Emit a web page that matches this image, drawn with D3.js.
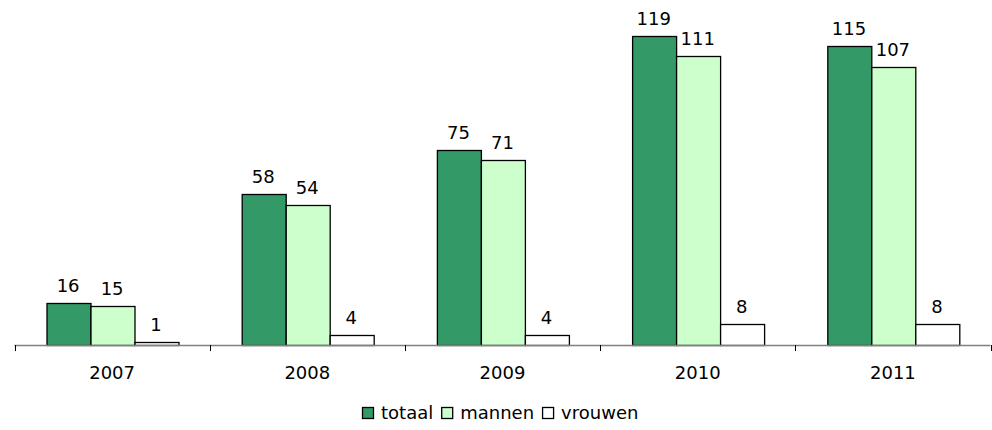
<!DOCTYPE html>
<html>
<head>
<meta charset="utf-8">
<script src="https://cdn.jsdelivr.net/npm/d3@7"></script>
<style>
  html, body { margin: 0; padding: 0; background: #fff; }
  svg { display: block; }
  text { font-family: "DejaVu Sans", Verdana, sans-serif; fill: #000; }
</style>
</head>
<body>
<svg id="chart" width="992" height="430"></svg>
<script>
const years = ["2007", "2008", "2009", "2010", "2011"];
const seriesNames = ["totaal", "mannen", "vrouwen"];
const totaal = [16, 58, 75, 119, 115];
const mannen = [15, 54, 71, 111, 107];
const vrouwen = [1, 4, 4, 8, 8];
const seriesColors = ["#339966", "#ccffcc", "#ffffff"];

const seriesValues = [totaal, mannen, vrouwen];
const svg = d3.select("#chart");

const left = 14.5, right = 990.5, baseY = 345, topY = 33;
const x0 = d3.scaleBand().domain(years).range([left, right]).paddingInner(0).paddingOuter(0);
const x1 = d3.scaleBand().domain(seriesNames).range([0, x0.bandwidth()]).paddingInner(0).paddingOuter(0.72);
const y = d3.scaleLinear().domain([0, 120]).range([baseY, topY]);
const color = d3.scaleOrdinal().domain(seriesNames).range(seriesColors);

const data = years.map((yr, i) => ({
  year: yr,
  vals: seriesNames.map((s, j) => ({ series: s, value: seriesValues[j][i] }))
}));

const groups = svg.selectAll("g.grp").data(data).enter().append("g")
  .attr("class", "grp")
  .attr("transform", d => `translate(${x0(d.year)},0)`);

groups.selectAll("rect").data(d => d.vals).enter().append("rect")
  .attr("x", d => Math.round(x1(d.series)) + 0.5)
  .attr("y", d => Math.round(y(d.value)) + 0.5)
  .attr("width", Math.round(x1.bandwidth()))
  .attr("height", d => baseY - Math.round(y(d.value)))
  .attr("fill", d => color(d.series))
  .attr("stroke", "#000")
  .attr("stroke-width", 1.3);

groups.selectAll("text.val").data(d => d.vals).enter().append("text")
  .attr("class", "val")
  .attr("x", d => x1(d.series) + x1.bandwidth() / 2)
  .attr("y", d => y(d.value) - 11)
  .attr("text-anchor", "middle")
  .style("font-size", "18px")
  .text(d => d.value);

// axis
const axisG = svg.append("g").attr("transform", `translate(0,${baseY})`);
axisG.append("line").attr("x1", left).attr("x2", right).attr("y1", 0.5).attr("y2", 0.5)
  .attr("stroke", "#808080").attr("stroke-width", 1.5);
const boundaries = years.map(yr => x0(yr)).concat([x0(years[years.length - 1]) + x0.bandwidth()]);
axisG.selectAll("line.tick").data(boundaries).enter().append("line")
  .attr("class", "tick")
  .attr("x1", d => Math.round(d) + 0.5).attr("x2", d => Math.round(d) + 0.5)
  .attr("y1", 0).attr("y2", 6)
  .attr("stroke", "#000").attr("stroke-width", 1);

svg.selectAll("text.cat").data(years).enter().append("text")
  .attr("class", "cat")
  .attr("x", d => x0(d) + x0.bandwidth() / 2)
  .attr("y", 379)
  .attr("text-anchor", "middle")
  .style("font-size", "18px")
  .text(d => d);

// legend
const legend = svg.append("g");
const sq = 12, gapText = 7, gapItem = 8;
let cx = 0;
seriesNames.forEach((s, i) => {
  const g = legend.append("g");
  g.append("rect").attr("x", cx + 0.5).attr("y", 407.5).attr("width", sq - 1).attr("height", sq - 1)
    .attr("fill", seriesColors[i]).attr("stroke", "#000").attr("stroke-width", 1.3);
  const t = g.append("text").attr("x", cx + sq + gapText).attr("y", 419)
    .style("font-size", "18px").text(s);
  const w = t.node().getComputedTextLength();
  cx += sq + gapText + w + gapItem;
});
const totalW = cx - gapItem;
legend.attr("transform", `translate(${Math.round(500 - totalW / 2)},0)`);
</script>
</body>
</html>
